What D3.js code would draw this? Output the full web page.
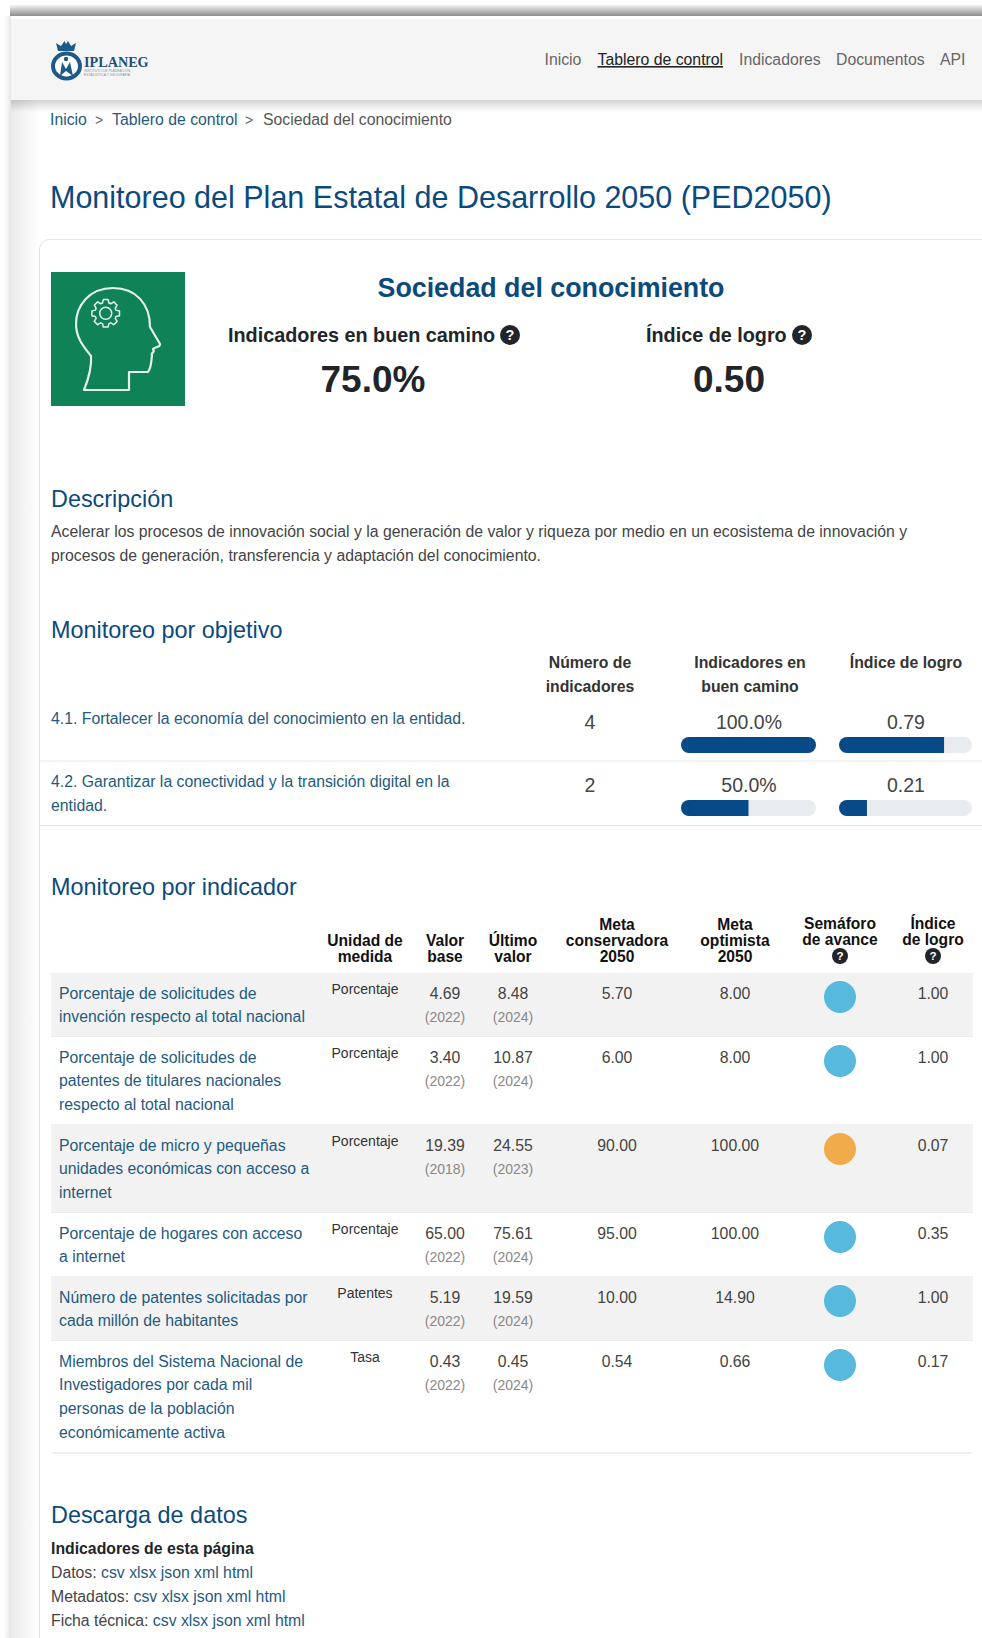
<!DOCTYPE html>
<html lang="es">
<head>
<meta charset="utf-8">
<title>Sociedad del conocimiento</title>
<script src="https://cdn.jsdelivr.net/npm/d3@7"></script>
<style>
  html, body { margin: 0; padding: 0; background: #fff; overflow: hidden; }
  svg { display: block; font-family: "Liberation Sans", Arial, sans-serif; }
</style>
</head>
<body>
<script>
// menu and breadcrumb
const navItems = ["Inicio", "Tablero de control", "Indicadores", "Documentos", "API"];
const pageTitle = "Monitoreo del Plan Estatal de Desarrollo 2050 (PED2050)";

// summary
const axisName = "Sociedad del conocimiento";
const summaryLabels = ["Indicadores en buen camino", "Índice de logro"];
const summaryValues = ["75.0%", "0.50"];
const description = [
  "Acelerar los procesos de innovación social y la generación de valor y riqueza por medio en un ecosistema de innovación y",
  "procesos de generación, transferencia y adaptación del conocimiento."
];

// monitoreo por objetivo
const objectives = [
  ["4.1. Fortalecer la economía del conocimiento en la entidad."],
  ["4.2. Garantizar la conectividad y la transición digital en la", "entidad."]
];
const objectiveCounts = [4, 2];
const objectiveOnTrack = [100.0, 50.0];
const objectiveIndex = [0.79, 0.21];

// monitoreo por indicador
const indicators = [
  ["Porcentaje de solicitudes de", "invención respecto al total nacional"],
  ["Porcentaje de solicitudes de", "patentes de titulares nacionales", "respecto al total nacional"],
  ["Porcentaje de micro y pequeñas", "unidades económicas con acceso a", "internet"],
  ["Porcentaje de hogares con acceso", "a internet"],
  ["Número de patentes solicitadas por", "cada millón de habitantes"],
  ["Miembros del Sistema Nacional de", "Investigadores por cada mil", "personas de la población", "económicamente activa"]
];
const units = ["Porcentaje", "Porcentaje", "Porcentaje", "Porcentaje", "Patentes", "Tasa"];
const baseValues = ["4.69", "3.40", "19.39", "65.00", "5.19", "0.43"];
const baseYears = [2022, 2022, 2018, 2022, 2022, 2022];
const lastValues = ["8.48", "10.87", "24.55", "75.61", "19.59", "0.45"];
const lastYears = [2024, 2024, 2023, 2024, 2024, 2024];
const metaConservadora = ["5.70", "6.00", "90.00", "95.00", "10.00", "0.54"];
const metaOptimista = ["8.00", "8.00", "100.00", "100.00", "14.90", "0.66"];
const semaforo = ["azul", "azul", "naranja", "azul", "azul", "azul"];
const logro = ["1.00", "1.00", "0.07", "0.35", "1.00", "0.17"];

const tableColumns = ["unidad", "base", "ultimo", "conservadora", "optimista", "semaforo", "logro"];
const tableHeaders = [
  ["Unidad de", "medida"], ["Valor", "base"], ["Último", "valor"],
  ["Meta", "conservadora", "2050"], ["Meta", "optimista", "2050"],
  ["Semáforo", "de avance"], ["Índice", "de logro"]
];

// descargas
const downloadRows = ["Datos:", "Metadatos:", "Ficha técnica:"];
const downloadFormats = ["csv", "xlsx", "json", "xml", "html"];

const blue = "#0b4a7d", link = "#1f5a80", ink = "#212529", text = "#444", barBlue = "#064a87";

const svg = d3.select("body").append("svg").attr("width", 982).attr("height", 1638);
const defs = svg.append("defs");

function gradient(id, x2, y2, stops) {
  const g = defs.append("linearGradient").attr("id", id)
    .attr("x1", 0).attr("y1", 0).attr("x2", x2).attr("y2", y2);
  stops.forEach(s => g.append("stop").attr("offset", s[0]).attr("stop-color", s[1]).attr("stop-opacity", s[2]));
}
gradient("topBand", 0, 1, [[0, "#f4f4f4", 1], [0.45, "#c4c4c4", 1], [1, "#8c8c8c", 1]]);
gradient("leftBand", 1, 0, [[0, "#000", 0.08], [1, "#000", 0]]);
gradient("leftOuter", 1, 0, [[0, "#000", 0], [1, "#000", 0.1]]);
gradient("navShadow", 0, 1, [[0, "#000", 0.17], [1, "#000", 0]]);

function label(parent, str, x, y, size, fill, opts) {
  opts = opts || {};
  return parent.append("text")
    .attr("x", x).attr("y", y)
    .attr("font-size", size)
    .attr("fill", fill)
    .attr("font-weight", opts.bold ? 700 : 400)
    .attr("text-anchor", opts.anchor || "start")
    .text(str);
}

function helpIcon(parent, cx, cy, r) {
  parent.append("circle").attr("cx", cx).attr("cy", cy).attr("r", r).attr("fill", ink);
  label(parent, "?", cx, cy + r * 0.5, r * 1.45, "#fff", { bold: true, anchor: "middle" });
}

// page frame
svg.append("rect").attr("x", 4).attr("y", 16).attr("width", 7).attr("height", 1622).attr("fill", "url(#leftOuter)");
svg.append("rect").attr("x", 11).attr("y", 100).attr("width", 29).attr("height", 1538).attr("fill", "url(#leftBand)");
svg.append("rect").attr("x", 10).attr("y", 5).attr("width", 972).attr("height", 11).attr("fill", "url(#topBand)");
svg.append("rect").attr("x", 11).attr("y", 19).attr("width", 971).attr("height", 81).attr("fill", "#f5f5f5");
svg.append("rect").attr("x", 11).attr("y", 100).attr("width", 971).attr("height", 12).attr("fill", "url(#navShadow)");

// logo
const logo = svg.append("g");
logo.append("ellipse").attr("cx", 66.5).attr("cy", 66).attr("rx", 13.5).attr("ry", 12.5)
  .attr("fill", "#fff").attr("stroke", "#1d5a8a").attr("stroke-width", 4);
logo.append("path").attr("d", "M60 76L62 62L66 69L70 62L73 76L66 71Z").attr("fill", "#1d5a8a");
logo.append("circle").attr("cx", 66).attr("cy", 59).attr("r", 2.2).attr("fill", "#1d5a8a");
logo.append("path").attr("d", "M58 51L56 43L61 46L64.5 41L66 44L68 41L71 46L76 43L74 51Z").attr("fill", "#1d5a8a");
label(logo, "IPLANEG", 84, 67, 14.2, "#1d4f78", { bold: true }).attr("font-family", "Liberation Serif");
label(logo, "INSTITUTO DE PLANEACIÓN,", 84, 72, 3.4, "#7d97ad");
label(logo, "ESTADÍSTICA Y GEOGRAFÍA", 84, 76, 3.4, "#7d97ad");

// nav
const navX = d3.scaleOrdinal().domain(navItems).range([544.5, 597.5, 739, 836, 940]);
svg.append("g").selectAll("text").data(navItems).join("text")
  .attr("x", d => navX(d)).attr("y", 65)
  .attr("font-size", 15.8)
  .attr("fill", d => d === "Tablero de control" ? "#222" : "#666")
  .attr("text-decoration", d => d === "Tablero de control" ? "underline" : null)
  .text(d => d);

// breadcrumb
label(svg, navItems[0], 50, 125, 15.8, link);
label(svg, ">", 95, 125, 14, "#666");
label(svg, navItems[1], 112, 125, 15.8, link);
label(svg, ">", 245, 125, 14, "#666");
label(svg, axisName, 263, 125, 15.8, "#555");

label(svg, pageTitle, 50, 208, 30.5, blue);

// card
svg.append("rect").attr("x", 39.5).attr("y", 239.5).attr("width", 960).attr("height", 1420).attr("rx", 10)
  .attr("fill", "#fff").attr("stroke", "#e3e3e3");

// axis icon
const icon = svg.append("g").attr("transform", "translate(51,272)");
icon.append("rect").attr("width", 134).attr("height", 134).attr("fill", "#0f8257");
icon.append("path")
  .attr("d", "M33 118L78 118L78 100L97 100C101 94 100 88 101 84C99 80 105 81 102 77C104 75 110 75 109 72L99 55C99 32 85 16 62 16C38 16 25 34 25 52C25 66 33 75 40 84C41 96 37 108 33 118Z")
  .attr("fill", "none").attr("stroke", "#e4f2ec").attr("stroke-width", 2.2).attr("stroke-linejoin", "round");
const gearTeeth = d3.range(0, 8).flatMap(i => {
  const a = i * Math.PI / 4;
  return [[a - 0.3, 10.8], [a - 0.17, 14], [a + 0.17, 14], [a + 0.3, 10.8]];
});
icon.append("path")
  .attr("transform", "translate(54.7,41.3)")
  .attr("d", d3.lineRadial().curve(d3.curveLinearClosed)(gearTeeth))
  .attr("fill", "none").attr("stroke", "#e4f2ec").attr("stroke-width", 1.5).attr("stroke-linejoin", "round");
icon.append("circle").attr("cx", 54.7).attr("cy", 41.3).attr("r", 6)
  .attr("fill", "none").attr("stroke", "#e4f2ec").attr("stroke-width", 1.5);

// summary
label(svg, axisName, 551, 297, 26.8, blue, { bold: true, anchor: "middle" });
label(svg, summaryLabels[0], 228, 342, 19.8, ink, { bold: true });
helpIcon(svg, 510, 335, 10);
label(svg, summaryLabels[1], 646, 342, 19.8, ink, { bold: true });
helpIcon(svg, 802, 335, 10);
label(svg, summaryValues[0], 373, 392, 37, ink, { bold: true, anchor: "middle" });
label(svg, summaryValues[1], 729, 392, 37, ink, { bold: true, anchor: "middle" });

label(svg, "Descripción", 51, 507, 23.4, blue);
description.forEach((t, i) => label(svg, t, 51, 537 + i * 24, 15.8, text));

// objectives table
label(svg, "Monitoreo por objetivo", 51, 637.5, 23.4, blue);
[["Número de", "indicadores", 590], ["Indicadores en", "buen camino", 750]].forEach(h => {
  label(svg, h[0], h[2], 668, 15.8, "#333", { bold: true, anchor: "middle" });
  label(svg, h[1], h[2], 692, 15.8, "#333", { bold: true, anchor: "middle" });
});
label(svg, "Índice de logro", 906, 668, 15.8, "#333", { bold: true, anchor: "middle" });

const objRowTop = [692, 755];
const objLines = [761, 825.5];
const pctBar = d3.scaleLinear().domain([0, 100]).range([0, 135]);
const idxBar = d3.scaleLinear().domain([0, 1]).range([0, 133]);

function progressBar(parent, id, x, y, w, h, filled) {
  defs.append("clipPath").attr("id", id).append("rect")
    .attr("x", x).attr("y", y).attr("width", w).attr("height", h).attr("rx", 8);
  const g = parent.append("g").attr("clip-path", `url(#${id})`);
  g.append("rect").attr("x", x).attr("y", y).attr("width", w).attr("height", h).attr("fill", "#e9ecef");
  g.append("rect").attr("x", x).attr("y", y).attr("width", filled).attr("height", h).attr("fill", barBlue);
}

objectives.forEach((lines, i) => {
  const row = svg.append("g").attr("transform", `translate(0,${objRowTop[i]})`);
  lines.forEach((t, j) => label(row, t, 51, 32 + j * 23.5, 15.8, link));
  label(row, objectiveCounts[i], 590, 36.5, 19.5, text, { anchor: "middle" });
  label(row, objectiveOnTrack[i].toFixed(1) + "%", 749, 36.5, 19.5, text, { anchor: "middle" });
  label(row, objectiveIndex[i].toFixed(2), 906, 36.5, 19.5, text, { anchor: "middle" });
  progressBar(row, "pct" + i, 681, 45, pctBar(100), 16, pctBar(objectiveOnTrack[i]));
  progressBar(row, "idx" + i, 839, 45, idxBar(1), 16, idxBar(objectiveIndex[i]));
  svg.append("line").attr("x1", 39).attr("x2", 982)
    .attr("y1", objLines[i]).attr("y2", objLines[i])
    .attr("stroke", "#e6e6e6");
});

// indicators table
label(svg, "Monitoreo por indicador", 51, 895, 23.4, blue);
const colX = d3.scaleOrdinal().domain(tableColumns).range([365, 445, 513, 617, 735, 840, 933]);

tableColumns.forEach((c, i) => {
  const lines = tableHeaders[i];
  const helpCol = c === "semaforo" || c === "logro";
  const n = helpCol ? lines.length + 1 : lines.length;
  const y0 = 962 - (n - 1) * 16;
  lines.forEach((t, j) => label(svg, t, colX(c), y0 + j * 16 - (helpCol ? 1 : 0), 15.6, "#111", { bold: true, anchor: "middle" }));
  if (helpCol) helpIcon(svg, colX(c), 956, 8);
});

const rowHeights = indicators.map(lines => 16 + lines.length * 24);
const rowTops = [973].concat(Array.from(d3.cumsum(rowHeights), d => 973 + d));
const statusColor = d3.scaleOrdinal().domain(["azul", "naranja"]).range(["#56b9dd", "#f0ab4b"]);

const rows = svg.append("g").selectAll("g").data(indicators).join("g")
  .attr("transform", (d, i) => `translate(0,${rowTops[i]})`);

rows.append("rect")
  .attr("x", 51).attr("width", 922).attr("height", (d, i) => rowHeights[i])
  .attr("fill", (d, i) => i % 2 ? "#fff" : "#f2f2f2");
rows.append("line")
  .attr("x1", 51).attr("x2", 973)
  .attr("y1", (d, i) => rowHeights[i]).attr("y2", (d, i) => rowHeights[i])
  .attr("stroke", "#e2e2e2");

rows.each(function (lines, i) {
  const row = d3.select(this);
  lines.forEach((t, j) => label(row, t, 59, 25.5 + j * 23.8, 15.8, link));
  label(row, units[i], colX("unidad"), 20.5, 14, "#333", { anchor: "middle" });
  label(row, baseValues[i], colX("base"), 25.5, 15.8, text, { anchor: "middle" });
  label(row, `(${baseYears[i]})`, colX("base"), 49, 14, "#888", { anchor: "middle" });
  label(row, lastValues[i], colX("ultimo"), 25.5, 15.8, text, { anchor: "middle" });
  label(row, `(${lastYears[i]})`, colX("ultimo"), 49, 14, "#888", { anchor: "middle" });
  label(row, metaConservadora[i], colX("conservadora"), 25.5, 15.8, text, { anchor: "middle" });
  label(row, metaOptimista[i], colX("optimista"), 25.5, 15.8, text, { anchor: "middle" });
  row.append("circle").attr("cx", colX("semaforo")).attr("cy", 24).attr("r", 16).attr("fill", statusColor(semaforo[i]));
  label(row, logro[i], colX("logro"), 25.5, 15.8, text, { anchor: "middle" });
});

// downloads
label(svg, "Descarga de datos", 51, 1523, 23.4, blue);
label(svg, "Indicadores de esta página", 51, 1554, 15.8, ink, { bold: true });
downloadRows.forEach((name, i) => {
  const t = svg.append("text").attr("x", 51).attr("y", 1578 + i * 24).attr("font-size", 15.8).attr("fill", text).text(name);
  downloadFormats.forEach(f => t.append("tspan").attr("fill", link).text(" " + f));
});
</script>
</body>
</html>
